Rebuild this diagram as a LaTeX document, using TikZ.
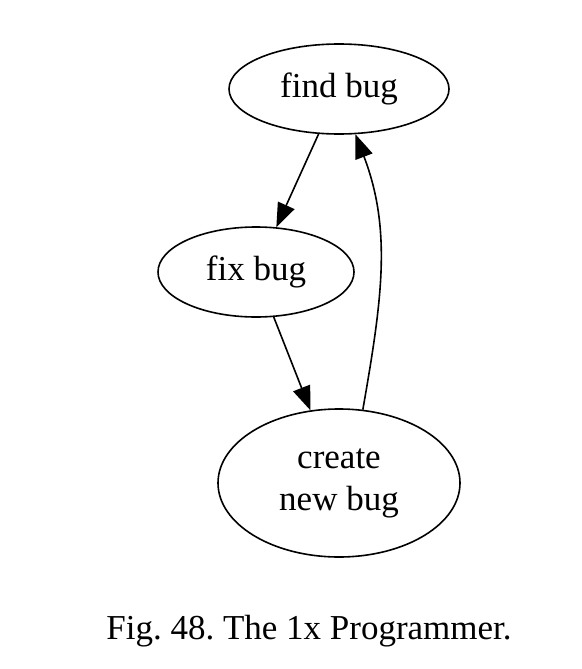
\documentclass[tikz,border=0pt]{standalone}
\usepackage{fontspec}
\setmainfont{Liberation Serif}
\usetikzlibrary{shapes.geometric, arrows.meta}
\tikzset{
    >={Triangle[length=24pt,width=18pt]},       % filled heads
    every node/.style={font=\fontsize{35}{42}\selectfont\frenchspacing},
    bugstate/.style={ellipse, draw, inner sep=0pt, align=center},
}
\begin{document}
\begin{tikzpicture}[x=1pt, y=-1pt, ->, line width=1.6pt]
\useasboundingbox (0,0) rectangle (581,669);

\node[bugstate, minimum width=220pt, minimum height=90pt] (find) at (339,89) {find bug};
\node[bugstate, minimum width=196pt, minimum height=90pt] (fix) at (256,272) {fix bug};
\node[bugstate, minimum width=242pt, minimum height=148pt] (create) at (339,483) {create\\new bug};
\node[draw=none] (caption) at (309,631) {Fig. 48. The 1x Programmer.};

\draw
(find) edge (fix)
(fix) edge (create);
\draw (create.72) .. controls (382,300) and (392,230) .. (find.-70);

\end{tikzpicture}
\end{document}
